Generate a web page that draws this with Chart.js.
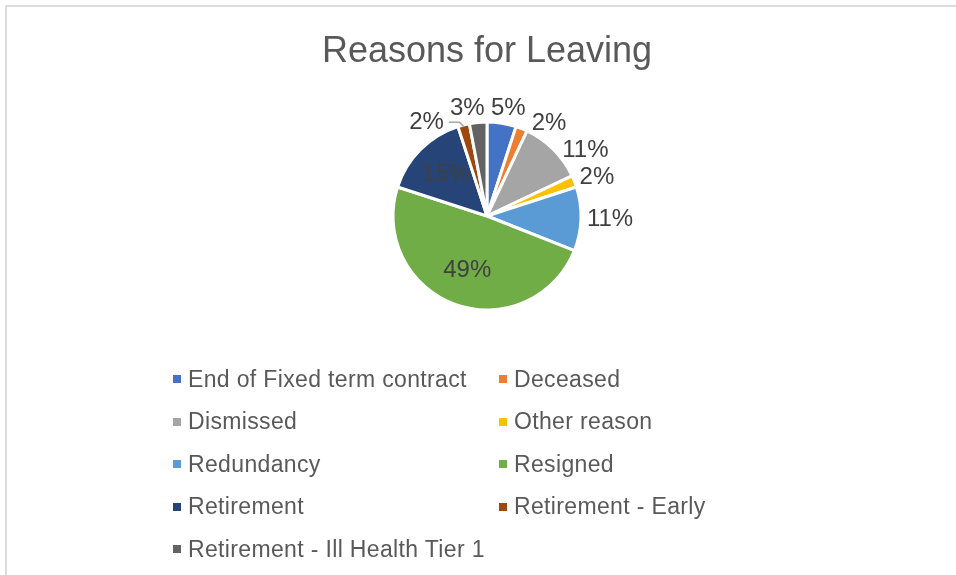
<!DOCTYPE html>
<html>
<head>
<meta charset="utf-8">
<title>Reasons for Leaving</title>
<script src="https://cdn.jsdelivr.net/npm/chart.js@4.4.0/dist/chart.umd.min.js"></script>
<style>
  html, body { margin: 0; padding: 0; background: #fff; }
  #frame { position: relative; width: 956px; height: 575px; overflow: hidden; }
  #frame .edge { position: absolute; left: 5px; top: 5px; right: -10px; bottom: -10px;
    border-top: 2px solid #dcdcdc; border-left: 2px solid #dcdcdc; }
  #reasons-chart { position: absolute; left: 0; top: 0; }
  #legend { position: absolute; left: 173px; top: 358px; display: grid;
    grid-template-columns: 326px 326px; grid-auto-rows: 42.5px;
    font-family: "Liberation Sans", Arial, sans-serif; font-size: 23px;
    letter-spacing: 0.35px; color: #595959; }
  #legend .item { display: flex; align-items: center; white-space: nowrap; }
  #legend .box { width: 8px; height: 8px; margin-right: 7px; flex: none; }
</style>
</head>
<body>
<div id="frame">
  <div class="edge"></div>
  <canvas id="reasons-chart" width="956" height="575"></canvas>
  <div id="legend"></div>
</div>
<script>
"use strict";

////////  DATA ///////////
const reasons = [
  'End of Fixed term contract',
  'Deceased',
  'Dismissed',
  'Other reason',
  'Redundancy',
  'Resigned',
  'Retirement',
  'Retirement - Early',
  'Retirement - Ill Health Tier 1'
];
const share_pct = [5, 2, 11, 2, 11, 49, 15, 2, 3];
const slice_colors = ['#4472C4', '#ED7D31', '#A5A5A5', '#FFC000', '#5B9BD5',
                      '#70AD47', '#264478', '#9E480E', '#636363'];

const FONT = '"Liberation Sans", Arial, sans-serif';

//////// PLUGINS /////////

// Percent labels: big slices inside, small ones outside with a simple spread
const pct_labels_plugin = {
  id: 'pct_labels',
  afterDatasetsDraw(chart) {
    const ctx = chart.ctx;
    const meta = chart.getDatasetMeta(0);
    const values = chart.data.datasets[0].data;
    ctx.save();
    ctx.font = '24px ' + FONT;
    ctx.fillStyle = '#404040';
    ctx.textAlign = 'center';
    ctx.textBaseline = 'middle';

    const outside = [];
    meta.data.forEach((arc, i) => {
      const p = arc.getProps(['x', 'y', 'startAngle', 'endAngle', 'outerRadius'], true);
      const mid = (p.startAngle + p.endAngle) / 2;
      const text = values[i] + '%';
      if (values[i] >= 15) {
        const d = p.outerRadius * 0.62;
        ctx.fillText(text, p.x + Math.cos(mid) * d, p.y + Math.sin(mid) * d);
      } else {
        outside.push({text, mid, ang: mid, w: ctx.measureText(text).width, h: 19,
                      x: p.x, y: p.y, r: p.outerRadius});
      }
    });

    const place = (l) => {
      const dx = Math.cos(l.ang), dy = Math.sin(l.ang);
      const d = l.r + 6;
      l.cx = l.x + dx * d + dx * l.w / 2;
      l.cy = l.y + dy * d + dy * l.h / 2;
    };
    const overlaps = (a, b) =>
      Math.abs(a.cx - b.cx) < (a.w + b.w) / 2 + 6 &&
      Math.abs(a.cy - b.cy) < (a.h + b.h) / 2 + 8;

    // push neighbouring labels apart until nothing collides
    const n = outside.length;
    for (let it = 0; it < 600; it++) {
      outside.forEach(place);
      let moved = false;
      for (let i = 0; i < n; i++) {
        const a = outside[i], b = outside[(i + 1) % n];
        if (overlaps(a, b)) {
          a.ang -= 0.005;
          b.ang += 0.005;
          moved = true;
        }
      }
      if (!moved) break;
    }
    outside.forEach(place);

    outside.forEach(l => {
      ctx.fillText(l.text, l.cx, l.cy);
      if (Math.abs(l.ang - l.mid) > 0.25) {
        // leader line back to the slice: flat run, then diagonal
        const ex = l.x + Math.cos(l.mid) * (l.r - 2);
        const ey = l.y + Math.sin(l.mid) * (l.r - 2);
        const side = ex > l.cx ? 1 : -1;
        const sx = l.cx + side * (l.w / 2 + 5);
        const kx = sx + side * Math.max(0, Math.abs(ex - sx) - Math.abs(ey - l.cy));
        ctx.beginPath();
        ctx.strokeStyle = '#A6A6A6';
        ctx.lineWidth = 1.5;
        ctx.moveTo(sx, l.cy);
        ctx.lineTo(kx, l.cy);
        ctx.lineTo(ex, ey);
        ctx.stroke();
      }
    });
    ctx.restore();
  }
};

//////// CHART /////////
const reasons_ctx = document.getElementById('reasons-chart').getContext('2d');
const reasons_chart = new Chart(reasons_ctx, {
  type: 'pie',
  data: {
    labels: reasons,
    datasets: [{
      data: share_pct,
      backgroundColor: slice_colors,
      borderColor: '#ffffff',
      borderWidth: 3
    }]
  },
  options: {
    responsive: false,
    animation: false,
    layout: {
      padding: {left: 18, right: 0, top: 0, bottom: 263.5}
    },
    plugins: {
      legend: {display: false},
      tooltip: {enabled: false},
      title: {
        display: true,
        text: 'Reasons for Leaving',
        color: '#595959',
        font: {family: FONT, size: 36, weight: 'normal', lineHeight: 1.2},
        padding: {top: 30, bottom: 47.3}
      }
    }
  },
  plugins: [pct_labels_plugin]
});

// Two-column legend built from the same arrays
const legend_node = document.getElementById('legend');
reasons.forEach((name, i) => {
  const item = document.createElement('div');
  item.className = 'item';
  const box = document.createElement('span');
  box.className = 'box';
  box.style.background = slice_colors[i];
  const label = document.createElement('span');
  label.textContent = name;
  item.appendChild(box);
  item.appendChild(label);
  legend_node.appendChild(item);
});
</script>
</body>
</html>
